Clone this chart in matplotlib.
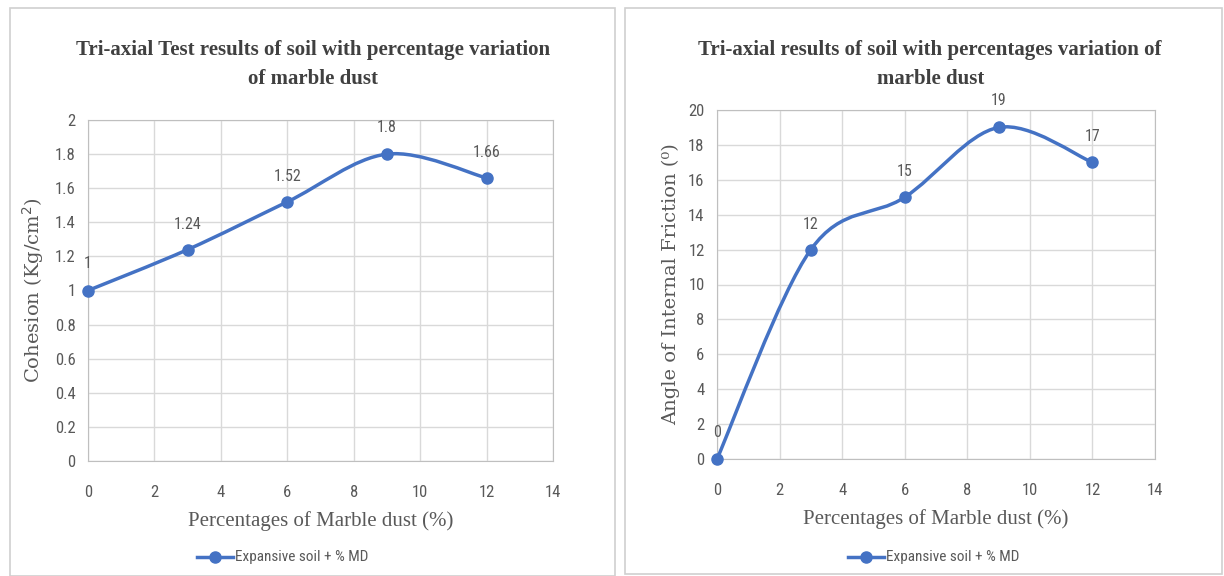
import matplotlib
matplotlib.use("Agg")
import matplotlib.pyplot as plt
from matplotlib.path import Path
from matplotlib.patches import PathPatch, Rectangle
from matplotlib.lines import Line2D
import numpy as np

# data
md_pct = [0, 3, 6, 9, 12]
cohesion = [1.0, 1.24, 1.52, 1.8, 1.66]
friction = [0, 12, 15, 19, 17]
x_ticks = [0, 2, 4, 6, 8, 10, 12, 14]
coh_ticks = [0, 0.2, 0.4, 0.6, 0.8, 1, 1.2, 1.4, 1.6, 1.8, 2]
fric_ticks = [0, 2, 4, 6, 8, 10, 12, 14, 16, 18, 20]
coh_labels = ["1", "1.24", "1.52", "1.8", "1.66"]
fric_labels = ["0", "12", "15", "19", "17"]

BLUE = "#4472C4"
GREY = "#595959"
GRID = "#D9D9D9"
SANS = ["Liberation Sans Narrow", "Roboto Condensed", "DejaVu Sans Condensed", "DejaVu Sans"]
SERIF = ["Liberation Serif", "DejaVu Serif"]


def smooth_path(x, y, t=1/6):
    # Catmull-Rom like bezier path, like excel smoothed line
    verts = [(x[0], y[0])]
    codes = [Path.MOVETO]
    n = len(x)
    for i in range(n - 1):
        x0, y0 = (x[i - 1], y[i - 1]) if i > 0 else (x[i], y[i])
        x3, y3 = (x[i + 2], y[i + 2]) if i + 2 < n else (x[i + 1], y[i + 1])
        c1 = (x[i] + (x[i + 1] - x0) * t, y[i] + (y[i + 1] - y0) * t)
        c2 = (x[i + 1] - (x3 - x[i]) * t, y[i + 1] - (y3 - y[i]) * t)
        verts += [c1, c2, (x[i + 1], y[i + 1])]
        codes += [Path.CURVE4] * 3
    return Path(verts, codes)


fig = plt.figure(figsize=(12.24, 5.76), dpi=100)

# panel frames
fig.patches.append(Rectangle((10 / 1224, 0), 605 / 1224, 568 / 576, transform=fig.transFigure,
                             fill=False, edgecolor="#D0D0D0", lw=1.2))
fig.patches.append(Rectangle((625 / 1224, 0.004), 597 / 1224, 566 / 576, transform=fig.transFigure,
                             fill=False, edgecolor="#D0D0D0", lw=1.2))


def panel(rect, y, yticks, ylim, labels, ylabel, title, title_x, legend_x, lab_offsets):
    ax = fig.add_axes(rect)
    ax.add_patch(PathPatch(smooth_path(md_pct, y), fill=False, edgecolor=BLUE, lw=2.5,
                           zorder=3, clip_on=False))
    ax.plot(md_pct, y, "o", color=BLUE, ms=8, zorder=4, clip_on=False)
    ax.set_xlim(0, 14)
    ax.set_ylim(*ylim)
    ax.set_xticks(x_ticks)
    ax.set_yticks(yticks)
    ax.set_yticklabels([f"{v:g}" for v in yticks])
    ax.grid(True, color=GRID, lw=1)
    ax.set_axisbelow(True)
    for s in ax.spines.values():
        s.set_color("#BFBFBF")
    ax.tick_params(axis="x", length=0, pad=17, labelsize=12, labelcolor=GREY)
    ax.tick_params(axis="y", length=0, pad=9, labelsize=12, labelcolor=GREY)
    for lab in ax.get_xticklabels() + ax.get_yticklabels():
        lab.set_family(SANS)
    for xv, yv, txt, (dx, dy) in zip(md_pct, y, labels, lab_offsets):
        ax.annotate(txt, (xv, yv), xytext=(dx, dy), textcoords="offset points",
                    ha="center", va="bottom", fontsize=11.5, color=GREY, family=SANS)
    ax.set_xlabel("Percentages of Marble dust (%)", family=SERIF, fontsize=15, color=GREY,
                  labelpad=8)
    ax.set_ylabel(ylabel, family=["DejaVu Serif"], fontsize=14, color=GREY, labelpad=6)
    fig.text(title_x, 0.93, title, ha="center", va="top", family=SERIF, fontsize=15,
             fontweight="bold", color="#404040", linespacing=1.6)
    # legend
    lx = legend_x
    ly = 1 - 557 / 576
    fig.add_artist(Line2D([lx - 0.029, lx], [ly, ly], color=BLUE, lw=2.5,
                          transform=fig.transFigure))
    fig.add_artist(Line2D([lx - 0.0145], [ly], color=BLUE, marker="o", ms=8,
                          transform=fig.transFigure))
    fig.text(lx + 0.002, ly, "Expansive soil + % MD", ha="left", va="center",
             family=SANS, fontsize=11, color=GREY)
    return ax


panel([88 / 1224, 1 - 461 / 576, 465 / 1224, 341 / 576], cohesion, coh_ticks, (0, 2),
      coh_labels, "Cohesion (Kg/cm$^2$)",
      "Tri-axial Test results of soil with percentage variation\nof marble dust", 0.256,
      0.19, [(0, 14), (0, 13), (0, 13), (0, 14), (0, 13)])

panel([717 / 1224, 1 - 459 / 576, 438 / 1224, 349 / 576], friction, fric_ticks, (0, 20),
      fric_labels, "Angle of Internal Friction (\u2070)",
      "Tri-axial results of soil with percentages variation of\nmarble dust", 0.76,
      0.722, [(0, 14), (0, 13), (0, 13), (0, 14), (0, 13)])

fig.savefig("out.png", dpi=100, facecolor="white")
